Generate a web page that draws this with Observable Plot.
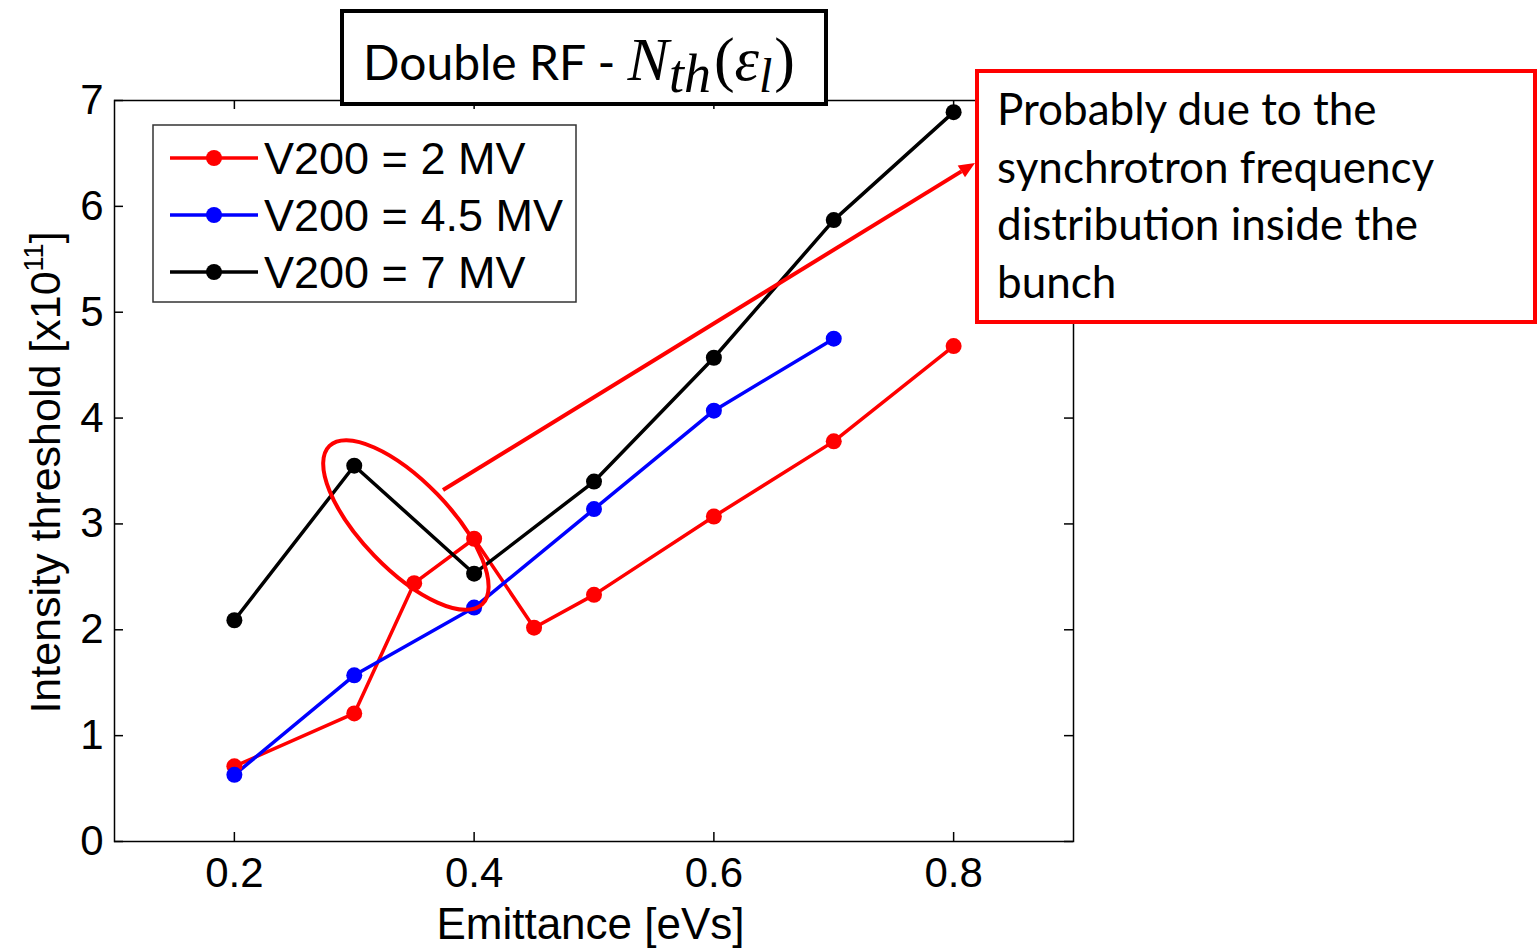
<!DOCTYPE html>
<html>
<head>
<meta charset="utf-8">
<script src="https://cdn.jsdelivr.net/npm/d3@7"></script>
<script src="https://cdn.jsdelivr.net/npm/@observablehq/plot@0.6"></script>
<style>
  body { margin: 0; background: #fff; }
  svg { display: block; }
</style>
</head>
<body>
<div id="chart"></div>
<script>
// Instability threshold vs. longitudinal emittance, double RF, three V200 voltages
const emittance2 = [0.2, 0.3, 0.35, 0.4, 0.45, 0.5, 0.6, 0.7, 0.8];
const threshold2 = [0.71, 1.21, 2.44, 2.86, 2.02, 2.33, 3.07, 3.78, 4.68];
const emittance45 = [0.2, 0.3, 0.4, 0.5, 0.6, 0.7];
const threshold45 = [0.63, 1.57, 2.21, 3.14, 4.07, 4.75];
const emittance7 = [0.2, 0.3, 0.4, 0.5, 0.6, 0.7, 0.8];
const threshold7 = [2.09, 3.55, 2.53, 3.40, 4.57, 5.87, 6.89];
const seriesNames = ["V200 = 2 MV", "V200 = 4.5 MV", "V200 = 7 MV"];
const seriesColors = ["#ff0000", "#0000ff", "#000000"];
const xTicks = [0.2, 0.4, 0.6, 0.8];
const yTicks = [0, 1, 2, 3, 4, 5, 6, 7];
const noteLines = ["Probably due to the", "synchrotron frequency", "distribution inside the", "bunch"];

const seriesData = [[emittance2, threshold2], [emittance45, threshold45], [emittance7, threshold7]];
const rows = seriesData.flatMap(([xs, ys], i) => xs.map((x, j) => ({e: x, n: ys[j], s: seriesNames[i]})));

const W = 1538, H = 949;
const mL = 114, mR = 465, mT = 100, mB = 108;
const fw = W - mL - mR, fh = H - mT - mB;
const axisFont = "'Liberation Sans', Arial, Helvetica, sans-serif";
const noteFont = "Lato, 'Open Sans', sans-serif";

const plot = Plot.plot({
  width: W, height: H,
  marginLeft: mL, marginRight: mR, marginTop: mT, marginBottom: mB,
  style: {fontFamily: axisFont, background: "#fff", color: "#000", overflow: "visible"},
  x: {domain: [0.1, 0.9]},
  y: {domain: [0, 7]},
  color: {domain: seriesNames, range: seriesColors},
  marks: [
    Plot.axisX(xTicks, {anchor: "bottom", tickSize: 0, tickPadding: 16, fontSize: 42, label: null, tickFormat: d3.format(".1f")}),
    Plot.axisY(yTicks, {anchor: "left", tickSize: 0, tickPadding: 11, fontSize: 42, label: null, tickFormat: d3.format("d")}),
    // inward ticks on all four sides
    Plot.tickX(xTicks, {x: d => d, insetTop: fh - 9, stroke: "#000", strokeWidth: 1.5}),
    Plot.tickX(xTicks, {x: d => d, insetBottom: fh - 9, stroke: "#000", strokeWidth: 1.5}),
    Plot.tickY(yTicks, {y: d => d, insetRight: fw - 9, stroke: "#000", strokeWidth: 1.5}),
    Plot.tickY(yTicks, {y: d => d, insetLeft: fw - 9, stroke: "#000", strokeWidth: 1.5}),
    Plot.frame({stroke: "#000", strokeWidth: 1.5}),
    Plot.line(rows, {x: "e", y: "n", z: "s", stroke: "s", strokeWidth: 3.5}),
    Plot.dot(rows, {x: "e", y: "n", fill: "s", r: 8})
  ]
});

document.getElementById("chart").appendChild(plot);

const svg = d3.select(plot);
const sx = plot.scale("x"), sy = plot.scale("y");

// axis titles
svg.append("text")
  .attr("x", (sx.apply(0.1) + sx.apply(0.9)) / 2 - 3).attr("y", 939)
  .attr("text-anchor", "middle")
  .style("font", `44px ${axisFont}`).attr("fill", "#000")
  .text("Emittance [eVs]");

const yl = svg.append("text")
  .attr("transform", `translate(60,${(sy.apply(0) + sy.apply(7)) / 2 + 2}) rotate(-90)`)
  .attr("text-anchor", "middle")
  .style("font", `43px ${axisFont}`).attr("fill", "#000");
yl.append("tspan").text("Intensity threshold [x10");
yl.append("tspan").attr("dy", -17).style("font-size", "27px").text("11");
yl.append("tspan").attr("dy", 17).text("]");

// legend box
const lg = svg.append("g").attr("text-anchor", "start");
lg.append("rect").attr("x", 153).attr("y", 125).attr("width", 423).attr("height", 177)
  .attr("fill", "#fff").attr("stroke", "#333").attr("stroke-width", 1.5);
seriesNames.forEach((name, i) => {
  const y = 158 + i * 57;
  lg.append("line").attr("x1", 170).attr("x2", 258).attr("y1", y).attr("y2", y)
    .attr("stroke", seriesColors[i]).attr("stroke-width", 3.5);
  lg.append("circle").attr("cx", 214).attr("cy", y).attr("r", 8).attr("fill", seriesColors[i]);
  lg.append("text").attr("x", 264).attr("y", y + 16)
    .style("font", `45px ${axisFont}`).attr("fill", "#000").text(name);
});

// highlight around the dip of the 7 MV curve
const cx = sx.apply(0.3435), cy = sy.apply(2.985);
svg.append("ellipse").attr("cx", 0).attr("cy", 0).attr("rx", 110).attr("ry", 44)
  .attr("transform", `translate(${cx},${cy}) rotate(46)`)
  .attr("fill", "none").attr("stroke", "#ff0000").attr("stroke-width", 4);

// arrow to the explanatory note
const ax1 = 443, ay1 = 490, ax2 = 975, ay2 = 163;
const ang = Math.atan2(ay2 - ay1, ax2 - ax1);
const hl = 16, hw = 7;
const bx = ax2 - hl * Math.cos(ang), by = ay2 - hl * Math.sin(ang);
svg.append("line").attr("x1", ax1).attr("y1", ay1).attr("x2", bx).attr("y2", by)
  .attr("stroke", "#ff0000").attr("stroke-width", 4);
svg.append("path")
  .attr("d", `M${ax2},${ay2}L${bx + hw * Math.sin(ang)},${by - hw * Math.cos(ang)}L${bx - hw * Math.sin(ang)},${by + hw * Math.cos(ang)}Z`)
  .attr("fill", "#ff0000");

// explanatory note
const note = svg.append("g").attr("text-anchor", "start");
note.append("rect").attr("x", 977).attr("y", 71).attr("width", 558).attr("height", 251)
  .attr("fill", "#fff").attr("stroke", "#ff0000").attr("stroke-width", 4);
noteLines.forEach((t, i) => {
  note.append("text").attr("x", 997).attr("y", 125 + i * 57.5)
    .style("font", `44px ${noteFont}`).attr("fill", "#000").text(t);
});

// title box
const title = svg.append("g").attr("text-anchor", "start");
title.append("rect").attr("x", 342).attr("y", 11).attr("width", 484).attr("height", 93)
  .attr("fill", "#fff").attr("stroke", "#000").attr("stroke-width", 4);
const tt = title.append("text").attr("x", 363).attr("y", 80)
  .style("font", `48px ${noteFont}`).attr("fill", "#000");
tt.append("tspan").text("Double RF - ");
const mathFont = "'Liberation Serif', 'DejaVu Serif', serif";
tt.append("tspan").style("font", `italic 62px ${mathFont}`).text("N");
tt.append("tspan").attr("dy", 12).style("font", `italic 54px ${mathFont}`).text("th");
tt.append("tspan").attr("dy", -12).attr("dx", 3).style("font", `62px ${mathFont}`).text("(");
tt.append("tspan").style("font", `italic 62px ${mathFont}`).text("ε");
tt.append("tspan").attr("dy", 12).style("font", `italic 48px ${mathFont}`).text("l");
tt.append("tspan").attr("dy", -12).attr("dx", 2).style("font", `62px ${mathFont}`).text(")");
</script>
</body>
</html>
